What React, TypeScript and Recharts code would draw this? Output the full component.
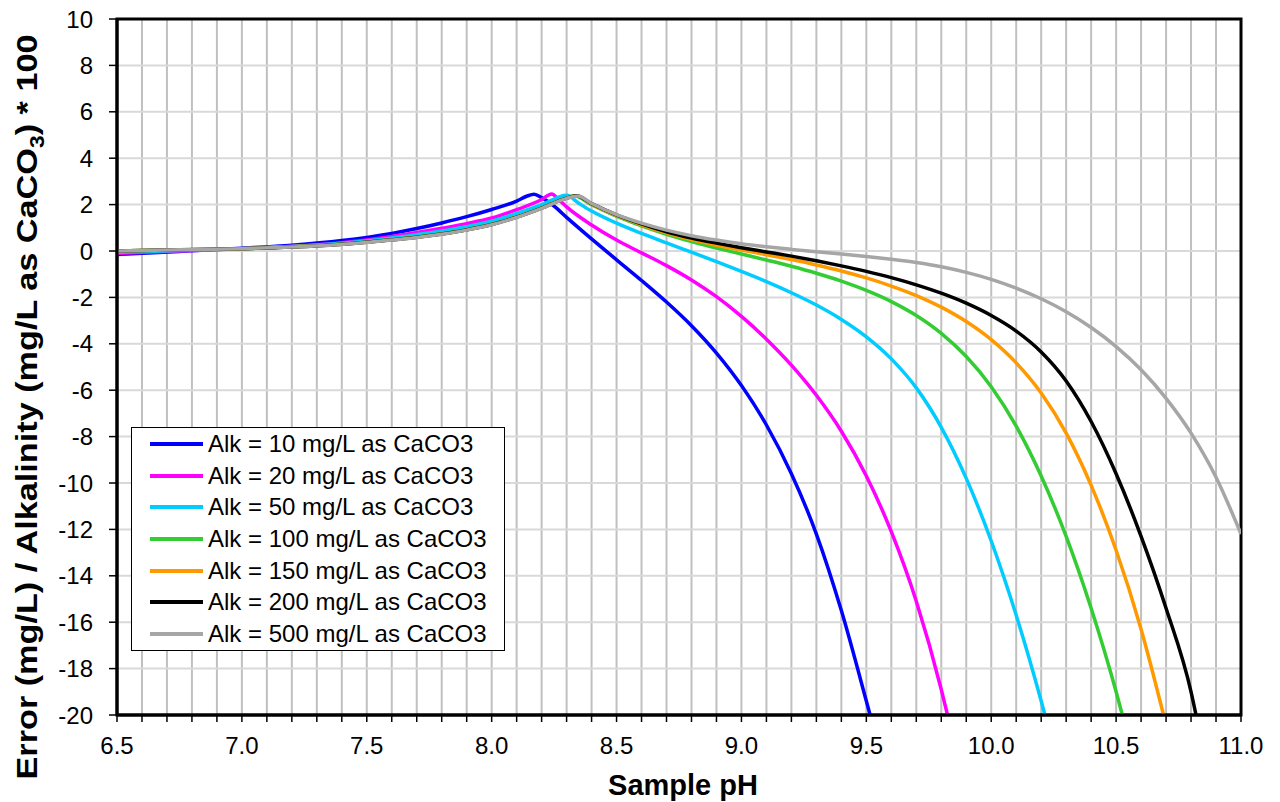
import { LineChart, Line, XAxis, YAxis, CartesianGrid, Legend, ReferenceArea, Label } from "recharts";

const FONT = "'Liberation Sans', Arial, sans-serif";

// x ticks every 0.1 pH, labels only on the half units
const xTicks = [
  6.5, 6.6, 6.7, 6.8, 6.9, 7.0, 7.1, 7.2, 7.3, 7.4, 7.5, 7.6, 7.7, 7.8, 7.9, 8.0,
  8.1, 8.2, 8.3, 8.4, 8.5, 8.6, 8.7, 8.8, 8.9, 9.0, 9.1, 9.2, 9.3, 9.4, 9.5, 9.6,
  9.7, 9.8, 9.9, 10.0, 10.1, 10.2, 10.3, 10.4, 10.5, 10.6, 10.7, 10.8, 10.9, 11.0,
];
const yTicks = [-20, -18, -16, -14, -12, -10, -8, -6, -4, -2, 0, 2, 4, 6, 8, 10];

// Alk = 10
const alk10Ph = [6.5, 6.75, 7.0, 7.2, 7.4, 7.6, 7.7, 7.8, 7.9, 8.0, 8.1, 8.14, 8.17, 8.2, 8.25, 8.3, 8.4, 8.5, 8.6, 8.7, 8.8, 8.9, 9.0, 9.1, 9.2, 9.3, 9.4, 9.5, 9.515];
const alk10Err = [-0.15, -0.02, 0.12, 0.25, 0.45, 0.76, 0.97, 1.21, 1.48, 1.79, 2.15, 2.36, 2.45, 2.3, 1.93, 1.45, 0.52, -0.38, -1.27, -2.2, -3.22, -4.4, -5.8, -7.5, -9.6, -12.2, -15.5, -19.4, -20];

// Alk = 20
const alk20Ph = [6.5, 6.75, 7.0, 7.2, 7.4, 7.6, 7.8, 7.9, 8.0, 8.1, 8.2, 8.24, 8.27, 8.3, 8.4, 8.5, 8.6, 8.7, 8.8, 8.9, 9.0, 9.1, 9.2, 9.3, 9.4, 9.5, 9.6, 9.7, 9.8, 9.825];
const alk20Err = [-0.1, 0.0, 0.1, 0.2, 0.36, 0.63, 0.98, 1.18, 1.42, 1.78, 2.22, 2.46, 2.2, 1.9, 1.12, 0.47, -0.08, -0.63, -1.25, -1.97, -2.82, -3.8, -4.92, -6.22, -7.77, -9.7, -12.1, -15.1, -18.9, -20];

// Alk = 50
const alk50Ph = [6.5, 6.75, 7.0, 7.2, 7.4, 7.6, 7.8, 7.9, 8.0, 8.1, 8.2, 8.3, 8.35, 8.4, 8.5, 8.6, 8.7, 8.8, 8.9, 9.0, 9.1, 9.2, 9.3, 9.4, 9.5, 9.6, 9.7, 9.8, 9.9, 10.0, 10.1, 10.2, 10.215];
const alk50Err = [-0.05, 0.02, 0.1, 0.19, 0.33, 0.56, 0.86, 1.05, 1.28, 1.62, 2.0, 2.4, 2.05, 1.72, 1.2, 0.76, 0.35, -0.05, -0.46, -0.88, -1.32, -1.8, -2.33, -2.95, -3.7, -4.65, -5.9, -7.6, -9.8, -12.5, -15.7, -19.4, -20];

// Alk = 100
const alk100Ph = [6.5, 6.75, 7.0, 7.2, 7.4, 7.6, 7.7, 7.8, 7.9, 8.0, 8.1, 8.2, 8.3, 8.33, 8.4, 8.5, 8.6, 8.7, 8.8, 8.9, 9.0, 9.1, 9.2, 9.3, 9.4, 9.5, 9.6, 9.7, 9.8, 9.9, 10.0, 10.1, 10.2, 10.3, 10.4, 10.5, 10.525];
const alk100Err = [0.0, 0.05, 0.1, 0.18, 0.3, 0.49, 0.6, 0.74, 0.92, 1.15, 1.47, 1.86, 2.29, 2.38, 2.0, 1.5, 1.08, 0.72, 0.41, 0.13, -0.13, -0.39, -0.66, -0.96, -1.3, -1.7, -2.18, -2.78, -3.55, -4.55, -5.85, -7.55, -9.7, -12.3, -15.4, -19.0, -20];

// Alk = 150
const alk150Ph = [6.5, 6.75, 7.0, 7.2, 7.4, 7.6, 7.7, 7.8, 7.9, 8.0, 8.1, 8.2, 8.3, 8.34, 8.4, 8.5, 8.6, 8.7, 8.8, 8.9, 9.0, 9.1, 9.2, 9.3, 9.4, 9.5, 9.6, 9.7, 9.8, 9.9, 10.0, 10.1, 10.2, 10.3, 10.4, 10.5, 10.6, 10.69];
const alk150Err = [0.0, 0.05, 0.1, 0.18, 0.29, 0.48, 0.59, 0.73, 0.91, 1.14, 1.46, 1.85, 2.28, 2.38, 2.02, 1.53, 1.13, 0.78, 0.49, 0.25, 0.04, -0.16, -0.37, -0.6, -0.86, -1.16, -1.51, -1.92, -2.42, -3.04, -3.82, -4.82, -6.12, -7.85, -10.1, -12.9, -16.3, -20];

// Alk = 200
const alk200Ph = [6.5, 6.75, 7.0, 7.2, 7.4, 7.6, 7.7, 7.8, 7.9, 8.0, 8.1, 8.2, 8.3, 8.34, 8.4, 8.5, 8.6, 8.7, 8.8, 8.9, 9.0, 9.1, 9.2, 9.3, 9.4, 9.5, 9.6, 9.7, 9.8, 9.9, 10.0, 10.1, 10.2, 10.3, 10.4, 10.5, 10.6, 10.7, 10.8, 10.82];
const alk200Err = [0.0, 0.05, 0.1, 0.17, 0.29, 0.48, 0.59, 0.73, 0.91, 1.14, 1.46, 1.85, 2.28, 2.38, 2.04, 1.56, 1.17, 0.83, 0.56, 0.34, 0.14, -0.04, -0.22, -0.42, -0.64, -0.88, -1.15, -1.46, -1.82, -2.25, -2.78, -3.45, -4.35, -5.6, -7.35, -9.6, -12.3, -15.4, -19.0, -20];

// Alk = 500
const alk500Ph = [6.5, 6.75, 7.0, 7.2, 7.4, 7.6, 7.7, 7.8, 7.9, 8.0, 8.1, 8.2, 8.3, 8.345, 8.4, 8.5, 8.6, 8.7, 8.8, 8.9, 9.0, 9.1, 9.2, 9.3, 9.4, 9.5, 9.6, 9.7, 9.8, 9.9, 10.0, 10.1, 10.2, 10.3, 10.4, 10.5, 10.6, 10.7, 10.8, 10.9, 11.0];
const alk500Err = [0.0, 0.05, 0.1, 0.17, 0.28, 0.47, 0.58, 0.72, 0.9, 1.13, 1.45, 1.84, 2.27, 2.37, 2.05, 1.57, 1.2, 0.9, 0.66, 0.47, 0.31, 0.18, 0.07, -0.03, -0.13, -0.24, -0.36, -0.5, -0.68, -0.92, -1.22, -1.6, -2.06, -2.62, -3.3, -4.12, -5.12, -6.35, -7.85, -9.75, -12.2];

const series = [
  { name: "Alk = 10 mg/L as CaCO3", color: "#0000ff", ph: alk10Ph, err: alk10Err },
  { name: "Alk = 20 mg/L as CaCO3", color: "#ff00ff", ph: alk20Ph, err: alk20Err },
  { name: "Alk = 50 mg/L as CaCO3", color: "#00ccff", ph: alk50Ph, err: alk50Err },
  { name: "Alk = 100 mg/L as CaCO3", color: "#33cc33", ph: alk100Ph, err: alk100Err },
  { name: "Alk = 150 mg/L as CaCO3", color: "#ff9900", ph: alk150Ph, err: alk150Err },
  { name: "Alk = 200 mg/L as CaCO3", color: "#000000", ph: alk200Ph, err: alk200Err },
  { name: "Alk = 500 mg/L as CaCO3", color: "#a6a6a6", ph: alk500Ph, err: alk500Err },
];

const toPoints = (ph: number[], err: number[]) => ph.map((p, i) => ({ ph: p, err: err[i] }));

const formatPh = (v: number) => (Math.abs(v * 2 - Math.round(v * 2)) < 1e-6 ? v.toFixed(1) : "");

const LegendBox = () => (
  <div
    style={{
      border: "1px solid #000",
      background: "#fff",
      padding: "0 0 0 18px",
      width: 354,
      fontFamily: FONT,
      fontSize: 24,
      color: "#000",
    }}
  >
    {series.map((s) => (
      <div key={s.name} style={{ display: "flex", alignItems: "center", height: 31.7 }}>
        <svg width={58} height={6} style={{ flexShrink: 0 }}>
          <line x1={0} y1={3} x2={53} y2={3} stroke={s.color} strokeWidth={4} />
        </svg>
        <span style={{ whiteSpace: "nowrap" }}>{s.name}</span>
      </div>
    ))}
  </div>
);

const YTitle = () => (
  <text
    transform="translate(29, 399) rotate(-90)"
    textAnchor="middle"
    fontFamily={FONT}
    fontSize={30}
    fontWeight="bold"
    fill="#000"
    textLength={745}
    lengthAdjust="spacingAndGlyphs"
  >
    Error (mg/L) / Alkalinity (mg/L as CaCO
    <tspan dy={7} fontSize={20}>3</tspan>
    <tspan dy={-7}>) * 100</tspan>
  </text>
);

const XTitle = () => (
  <text x={675} y={787} textAnchor="middle" fontFamily={FONT} fontSize={29} fontWeight="bold" fill="#000">
    Sample pH
  </text>
);

const App = () => {
  return (
    <LineChart width={1272} height={794} margin={{ top: 11, right: 39, left: 0, bottom: 0 }}>
      <CartesianGrid horizontal={false} stroke="#c0c0c0" strokeWidth={2} />
      <CartesianGrid vertical={false} stroke="#d9d9d9" strokeWidth={2} />
      <XAxis
        dataKey="ph"
        type="number"
        domain={[6.5, 11]}
        ticks={xTicks}
        interval={0}
        tickFormatter={formatPh}
        allowDataOverflow
        height={87}
        axisLine={{ stroke: "#000", strokeWidth: 3 }}
        tickLine={{ stroke: "#000", strokeWidth: 1.5 }}
        tickSize={7}
        tickMargin={15}
        tick={{ fontSize: 24, fill: "#000", fontFamily: FONT }}
      >
        <Label content={XTitle} />
      </XAxis>
      <YAxis
        type="number"
        domain={[-20, 10]}
        ticks={yTicks}
        interval={0}
        allowDataOverflow
        width={109}
        axisLine={{ stroke: "#000", strokeWidth: 3 }}
        tickLine={{ stroke: "#000", strokeWidth: 1.5 }}
        tickSize={8}
        tickMargin={16}
        tick={{ fontSize: 24, fill: "#000", fontFamily: FONT }}
      >
        <Label content={YTitle} />
      </YAxis>
      {series.map((s) => (
        <Line
          key={s.name}
          data={toPoints(s.ph, s.err)}
          dataKey="err"
          name={s.name}
          type="monotone"
          stroke={s.color}
          strokeWidth={3.5}
          dot={false}
          activeDot={false}
          isAnimationActive={false}
        />
      ))}
      <ReferenceArea x1={6.5} x2={11} y1={-20} y2={10} fill="none" fillOpacity={0} stroke="#000" strokeWidth={3} />
      <Legend
        layout="vertical"
        align="center"
        verticalAlign="middle"
        content={LegendBox}
        wrapperStyle={{ left: 123, top: 419, width: 374 }}
      />
    </LineChart>
  );
};

export default App;
